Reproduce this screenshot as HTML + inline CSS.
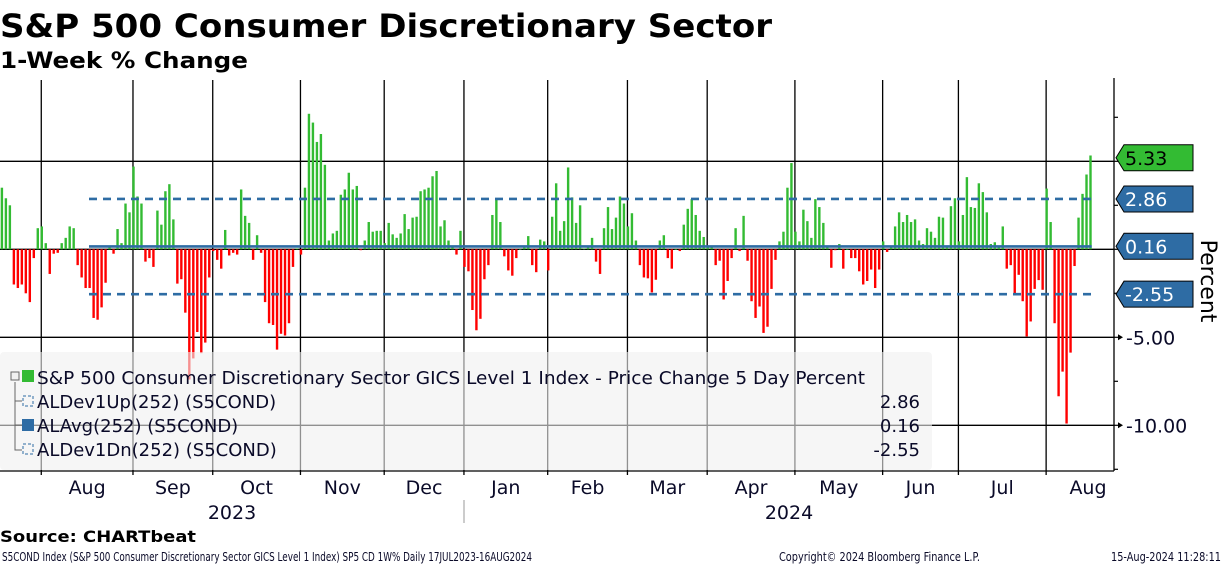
<!DOCTYPE html>
<html><head><meta charset="utf-8"><style>
html,body{margin:0;padding:0;background:#fff;}
svg{display:block;font-family:"DejaVu Sans","Liberation Sans",sans-serif;}
</style></head><body>
<svg id="chart" width="1224" height="566" viewBox="0 0 1224 566">
<text x="0" y="37" font-size="32" font-weight="bold" fill="#000" textLength="772" lengthAdjust="spacingAndGlyphs">S&amp;P 500 Consumer Discretionary Sector</text>
<text x="0" y="68" font-size="22" font-weight="bold" fill="#000" textLength="248" lengthAdjust="spacingAndGlyphs">1-Week % Change</text>
<g id="grid"></g><g id="bars"></g><g id="stats"></g>
<g>
<rect x="0" y="352" width="932" height="118" rx="4" fill="#f0f0f0" fill-opacity="0.6"/>
<path d="M15 382 V450 H22 M15 401 H22 M15 425 H22" stroke="#666" fill="none"/>
<rect x="11" y="372" width="8" height="8" fill="#f0f0f0" stroke="#666"/>
<rect x="22" y="370" width="12" height="12" fill="#33bb33"/>
<rect x="23" y="396" width="10" height="10" fill="none" stroke="#2e6ca4" stroke-dasharray="3,2"/>
<rect x="22" y="419" width="12" height="12" fill="#2e6ca4"/>
<rect x="23" y="444" width="10" height="10" fill="none" stroke="#2e6ca4" stroke-dasharray="3,2"/>
<g font-family="DejaVu Sans, sans-serif" font-size="18" fill="#0a0a28">
<text x="37" y="384" textLength="828" lengthAdjust="spacingAndGlyphs">S&amp;P 500 Consumer Discretionary Sector GICS Level 1 Index - Price Change 5 Day Percent</text>
<text x="37" y="408">ALDev1Up(252) (S5COND)</text>
<text x="37" y="432">ALAvg(252) (S5COND)</text>
<text x="37" y="456">ALDev1Dn(252) (S5COND)</text>
<text x="920" y="408" text-anchor="end">2.86</text>
<text x="920" y="432" text-anchor="end">0.16</text>
<text x="920" y="456" text-anchor="end">-2.55</text>
</g></g>
<g id="axes"></g>
<text x="0" y="542" font-size="16" font-weight="bold" fill="#000" textLength="196" lengthAdjust="spacingAndGlyphs">Source: CHARTbeat</text>
<g font-size="12" fill="#0a0a28" font-family="DejaVu Sans, sans-serif">
<text x="2" y="561" textLength="530" lengthAdjust="spacingAndGlyphs">S5COND Index (S&amp;P 500 Consumer Discretionary Sector GICS Level 1 Index) SP5 CD 1W%  Daily 17JUL2023-16AUG2024</text>
<text x="779" y="561" textLength="201" lengthAdjust="spacingAndGlyphs">Copyright© 2024 Bloomberg Finance L.P.</text>
<text x="1221" y="561" text-anchor="end" textLength="110" lengthAdjust="spacingAndGlyphs">15-Aug-2024 11:28:11</text>
</g>
</svg>
<script>
const values = [3.5,2.9,2.5,-2.0,-2.2,-2.0,-2.5,-3.0,-0.5,1.2,
1.3,0.35,-1.4,-0.25,-0.2,0.35,0.65,1.3,1.2,-0.9,
-1.6,-2.2,-2.2,-3.9,-4.0,-3.3,-1.9,0.15,-0.25,1.15,
0.35,2.6,2.1,4.7,3.0,2.6,-0.7,-0.5,-1.0,2.2,
1.4,3.3,3.7,1.7,-1.95,-1.7,-3.6,-7.4,-6.2,-4.7,
-5.9,-5.3,-1.6,-0.1,-0.6,-1.1,1.1,-0.35,-0.2,-0.3,
3.4,1.9,1.5,-0.6,0.8,-0.2,-3.0,-4.2,-4.3,-5.7,
-4.8,-4.9,-4.2,-1.0,0.05,-0.3,3.5,7.7,7.2,6.1,
6.55,4.8,0.5,0.9,1.05,3.1,3.4,4.35,3.4,3.6,
-0.05,0.5,1.55,1.0,1.05,1.05,0.35,1.5,0.85,0.65,
0.9,2.0,1.15,1.8,1.85,3.3,3.4,3.5,4.15,4.45,
1.3,1.65,0.5,0.15,-0.3,1.05,-1.0,-1.25,-3.45,-4.6,
-3.95,-1.7,-0.9,1.95,2.85,1.55,-0.4,-1.2,-1.5,-0.5,
0,0.1,0.75,-0.9,-1.3,0.55,0.45,-1.2,1.85,3.75,
1.05,1.6,4.65,2.95,1.5,2.5,0.05,0.1,0.65,-0.7,
-1.4,1.2,2.4,1.15,1.8,3.0,2.6,1.3,2.05,0.5,
-0.9,-1.6,-1.65,-2.45,-1.73,0.5,0.8,-0.5,-1.1,0,
-0.1,1.4,2.3,2.85,1.95,1.05,0.7,0.2,0.15,-0.9,
-0.65,-2.85,-1.8,-0.5,1.2,-0.1,1.9,-0.65,-2.95,-3.9,
-3.25,-4.75,-4.4,-2.25,-0.6,0.45,1.0,3.5,4.9,1.0,
0.45,2.25,1.6,0.65,2.85,2.4,1.5,0.15,-1.05,-0.05,
0.3,-1.1,0,-0.5,-0.5,-1.25,-2.0,-1.8,-1.15,-2.2,
-1.15,0.45,-0.15,0.15,1.3,2.1,1.55,1.95,1.55,1.7,
0.5,0.3,1.2,1.0,0.65,1.85,1.8,0.1,2.45,2.9,
0.45,1.95,4.1,2.4,2.35,3.75,3.25,2.1,0.3,0.4,
0.2,1.3,-1.1,-0.9,-2.6,-1.45,-2.95,-4.95,-4.1,-2.25,
-1.75,-2.3,3.45,1.55,-4.2,-8.35,-6.95,-9.9,-5.87,-0.95,
1.8,3.15,4.25,5.33];
const devUp = 2.86;
const avgVal = 0.16;
const devDn = -2.55;
const monthLabels = ["Aug","Sep","Oct","Nov","Dec","Jan","Feb","Mar","Apr","May","Jun","Jul","Aug"];
const monthStartIdx = [10.5,33.5,53.5,75.5,96.5,116.5,137.5,157.5,177.5,199.5,221.5,240.5,262.5];
const yTickValues = [-5,-10];
const yTickLabels = ["-5.00","-10.00"];

const NS="http://www.w3.org/2000/svg";
const X0=0.7, STEP=(1089.3-0.7)/(values.length-1);
const xScale=i=>X0+i*STEP;
const yScale=v=>249.3-v*17.6;
const PL=0,PR=1114,PT=80,PB=471;
function mk(tag,attrs,parent){const e=document.createElementNS(NS,tag);for(const k in attrs)e.setAttribute(k,attrs[k]);parent.appendChild(e);return e;}
const grid=document.getElementById('grid'),bars=document.getElementById('bars'),stats=document.getElementById('stats'),axes=document.getElementById('axes');
[5,0,-5,-10].forEach(v=>{const l=mk('line',{x1:PL,x2:PR,y1:yScale(v),y2:yScale(v),stroke:'#000','stroke-width':1.3},grid);

});
const monthX=monthStartIdx.map(i=>xScale(i)-1.3);
monthX.forEach((x,k)=>{const l=mk('line',{x1:x,x2:x,y1:PT,y2:PB+4,stroke:'#000','stroke-width':1.3},grid);

});
values.forEach((v,i)=>{const y0=yScale(0),y1=yScale(v);
const r=mk('rect',{x:xScale(i),y:Math.min(y0,y1),width:2.4,height:Math.max(0.6,Math.abs(y1-y0)),fill:v>=0?'#33bb33':'#ff0000'},bars);

});
const sx1=89,sx2=xScale(values.length-1)+2.4;
[[devUp,'8,6','dev-up-line'],[avgVal,null,'avg-line'],[devDn,'8,6','dev-down-line']].forEach(s=>{
const a={x1:sx1,x2:sx2,y1:yScale(s[0]),y2:yScale(s[0]),stroke:'#2e6ca4','stroke-width':2.6};if(s[1])a['stroke-dasharray']=s[1];
const l=mk('line',a,stats);

});
mk('line',{x1:PR,x2:PR,y1:PT-2,y2:PB,stroke:'#000','stroke-width':1.3},axes);
mk('line',{x1:PL,x2:PR,y1:PB,y2:PB,stroke:'#000','stroke-width':1.3},axes);
for(let v=7.5;v>=-12.5;v-=2.5){mk('line',{x1:PR,x2:PR+4,y1:yScale(v),y2:yScale(v),stroke:'#000','stroke-width':1.2},axes);}
yTickValues.forEach((v,k)=>{const y=yScale(v);
mk('path',{d:`M${PR+4} ${y-3} L${PR+9} ${y} L${PR+4} ${y+3}Z`,fill:'#000'},axes);
const t=mk('text',{x:PR+12,y:y+7,'font-size':19,fill:'#0a0a28'},axes);t.textContent=yTickLabels[k];

});
[[values[values.length-1],'#33bb33','#000','last-value-tag'],[devUp,'#2e6ca4','#fff','dev-up-tag'],[avgVal,'#2e6ca4','#fff','avg-tag'],[devDn,'#2e6ca4','#fff','dev-down-tag']].forEach(s=>{
let y=yScale(s[0]);if(s[3]==='last-value-tag')y=yScale(5)-3.5;if(s[3]==='avg-tag')y=yScale(0)-3;
const g=mk('g',{},axes);


mk('path',{d:`M1116 ${y} L1124 ${y-13} H1193 V${y+13} H1124 Z`,fill:s[1],stroke:'#000','stroke-width':1},g);
const t=mk('text',{x:1125,y:y+7,'font-size':19,fill:s[2]},g);t.textContent=s[0].toFixed(2);});
const pt=mk('text',{x:0,y:0,'font-size':22,fill:'#000',transform:'translate(1201,281) rotate(90)','text-anchor':'middle'},axes);pt.textContent='Percent';


monthLabels.forEach((m,k)=>{const a=monthX[k];const b=k<monthX.length-1?monthX[k+1]:PR+60;const cx=k<monthX.length-1?(a+b)/2:1088;
const t=mk('text',{x:cx,y:494,'font-size':19,fill:'#0a0a28','text-anchor':'middle'},axes);t.textContent=m;

});
[['2023',232],['2024',789]].forEach(s=>{const t=mk('text',{x:s[1],y:519,'font-size':19,fill:'#0a0a28','text-anchor':'middle'},axes);t.textContent=s[0];

});
mk('line',{x1:464,x2:464,y1:500,y2:523,stroke:'#999','stroke-width':1},axes);
</script>
</body></html>
